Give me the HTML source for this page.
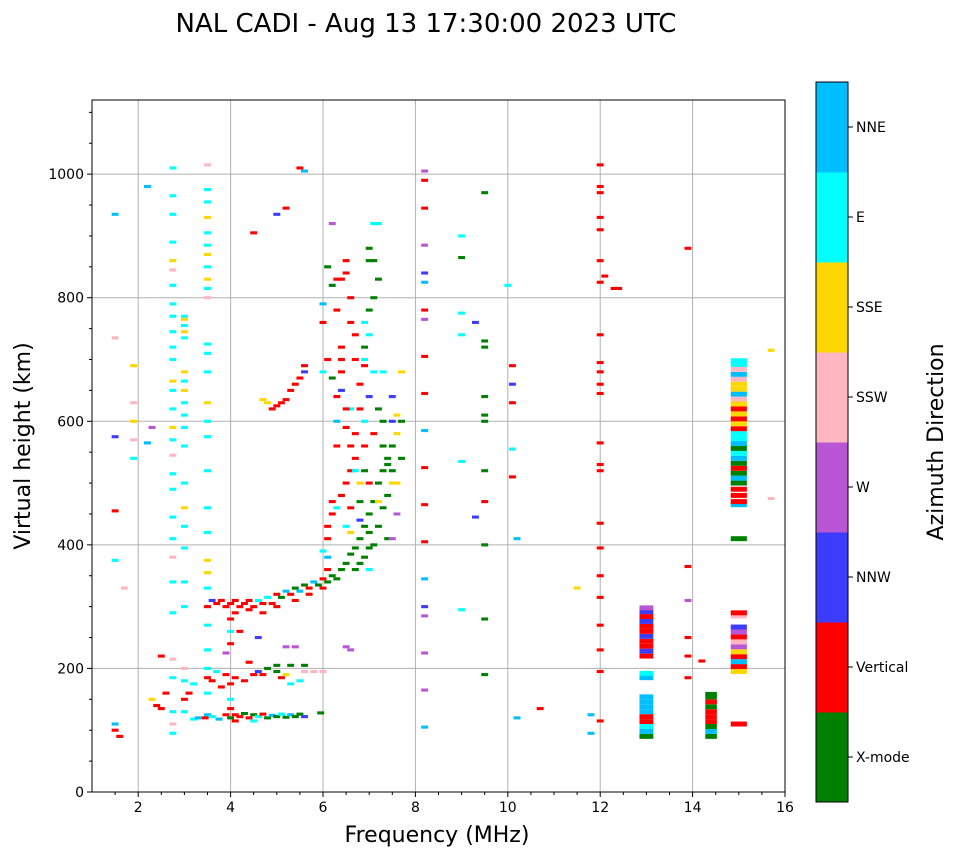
<!DOCTYPE html>
<html><head><meta charset="utf-8"><style>
body{margin:0;background:#fff;font-family:"Liberation Sans",sans-serif}
svg text{font-family:"DejaVu Sans","Liberation Sans",sans-serif}
</style></head><body>
<svg id="chart" width="958" height="857" xmlns="http://www.w3.org/2000/svg">
<text x="426" y="32" text-anchor="middle" font-size="26">NAL CADI - Aug 13 17:30:00 2023 UTC</text>
<g id="grid"></g>
<g id="marks"></g>
<rect x="92" y="100" width="693" height="692" fill="none" stroke="#000" stroke-width="1"/>
<g id="axes"></g>
<text x="437" y="842" text-anchor="middle" font-size="22">Frequency (MHz)</text>
<text transform="translate(30,446) rotate(-90)" text-anchor="middle" font-size="22">Virtual height (km)</text>
<g id="cbar"></g>
<text transform="translate(943,442) rotate(-90)" text-anchor="middle" font-size="22">Azimuth Direction</text>
</svg>
<script>
const dirLabels=["X-mode","Vertical","NNW","W","SSW","SSE","E","NNE"];
const dirColors=["#008000","#ff0000","#3c3cff","#b856d6","#ffb6c1","#ffd700","#00ffff","#00bfff"];
const xTicks=[2,4,6,8,10,12,14,16];
const yTicks=[0,200,400,600,800,1000];
const col275=[[2.75,95,6],[2.75,110,4],[2.75,130,6],[2.75,185,6],[2.75,215,4],[2.75,290,6],[2.75,340,6],[2.75,380,4],[2.75,410,6],[2.75,445,6],[2.75,490,6],[2.75,515,6],[2.75,545,4],[2.75,570,6],[2.75,590,5],[2.75,620,6],[2.75,650,6],[2.75,665,5],[2.75,700,6],[2.75,720,6],[2.75,745,6],[2.75,770,6],[2.75,790,6],[2.75,820,6],[2.75,845,4],[2.75,860,5],[2.75,890,6],[2.75,935,6],[2.75,965,6],[2.75,1010,6]];
const col3=[[3.0,130,6],[3.0,150,1],[3.0,180,6],[3.0,200,4],[3.0,300,6],[3.0,340,6],[3.0,395,6],[3.0,430,6],[3.0,460,5],[3.0,500,6],[3.0,560,6],[3.0,590,6],[3.0,610,6],[3.0,630,6],[3.0,650,5],[3.0,665,6],[3.0,680,5],[3.0,735,6],[3.0,745,5],[3.0,755,6],[3.0,765,5],[3.0,770,6]];
const col35=[[3.5,125,7],[3.5,160,6],[3.5,200,6],[3.5,230,6],[3.5,270,6],[3.5,330,6],[3.5,355,5],[3.5,375,5],[3.5,420,6],[3.5,460,6],[3.5,520,6],[3.5,575,6],[3.5,600,6],[3.5,630,5],[3.5,680,6],[3.5,710,6],[3.5,725,6],[3.5,800,4],[3.5,815,6],[3.5,830,5],[3.5,850,6],[3.5,870,5],[3.5,885,6],[3.5,905,6],[3.5,930,5],[3.5,955,6],[3.5,975,6],[3.5,1015,4]];
const eLayer=[[3.45,120,1],[3.6,122,6],[3.75,118,7],[3.9,125,1],[4.0,120,0],[4.1,125,1],[4.2,122,1],[4.3,127,0],[4.4,120,1],[4.5,125,0],[4.6,122,6],[4.7,126,1],[4.8,120,0],[4.9,124,7],[5.0,122,0],[5.1,126,6],[5.2,121,0],[5.3,125,7],[5.4,122,0],[5.5,126,0],[5.6,122,2],[5.95,128,0],[3.2,118,6],[3.3,120,7],[4.1,115,1],[4.5,115,6],[4.0,135,1],[4.0,150,6],[4.0,260,6],[4.0,280,1]];
const lowLayer=[[2.3,150,5],[2.4,140,1],[2.5,135,1],[2.6,160,1],[3.1,160,1],[3.2,175,6],[3.5,185,1],[3.6,180,1],[3.7,195,6],[3.8,170,1],[3.9,190,1],[4.0,175,1],[4.1,185,1],[4.3,180,1],[4.5,190,1],[4.6,195,2],[4.7,190,1],[4.8,200,0],[5.0,195,0],[5.1,185,1],[5.2,190,5],[5.3,175,6],[5.5,180,6],[5.6,195,4],[5.8,195,4],[6.0,195,4],[3.9,225,3],[4.0,240,1],[4.2,260,1],[4.6,250,2],[5.2,235,3],[5.4,235,3],[6.5,235,3],[6.6,230,3],[4.4,210,1],[5.0,205,0],[5.3,205,0],[5.6,205,0]];
const fTrace=[[3.5,300,1],[3.6,310,2],[3.7,305,1],[3.8,310,1],[3.9,300,1],[4.0,305,1],[4.1,310,1],[4.2,300,1],[4.3,305,1],[4.4,310,1],[4.5,300,1],[4.6,310,6],[4.7,305,1],[4.8,315,6],[4.9,305,1],[5.0,320,1],[5.1,315,0],[5.2,325,7],[5.3,320,1],[5.4,330,0],[5.5,325,7],[5.6,335,0],[5.7,330,1],[5.8,340,7],[5.9,335,0],[6.0,345,1],[6.1,340,0],[6.2,350,0],[6.3,345,0],[6.4,360,0],[6.5,370,0],[6.6,385,0],[6.7,395,0],[6.8,410,0],[6.9,430,0],[7.0,450,0],[7.1,470,0],[7.2,500,0],[7.3,520,0],[7.4,540,0],[7.5,560,0],[7.7,540,0],[7.6,500,5],[7.6,580,5],[7.6,610,5],[7.7,600,0],[4.1,290,1],[4.4,295,1],[4.7,290,1],[5.0,300,1],[5.4,310,1],[5.7,320,1],[6.0,330,1],[6.1,360,1],[6.1,380,7],[6.0,390,6],[6.1,410,1],[6.1,430,1],[6.2,450,1],[6.2,470,1],[6.3,460,6],[6.4,480,1],[6.5,500,1],[6.6,520,1],[6.7,540,1]];
const fScatter=[[6.3,560,1],[6.3,600,7],[6.3,640,1],[6.4,680,1],[6.4,700,1],[6.4,720,1],[6.3,780,1],[6.4,830,1],[6.5,860,1],[6.6,800,1],[6.6,760,1],[6.7,740,1],[6.7,700,1],[6.8,660,1],[6.8,620,1],[6.6,620,6],[6.5,590,1],[6.7,580,1],[6.9,560,1],[6.9,600,6],[7.0,640,2],[7.1,680,6],[6.9,690,1],[6.9,720,0],[6.9,760,6],[7.0,780,0],[7.1,800,0],[7.2,830,0],[7.1,860,0],[7.2,620,0],[7.3,600,0],[7.1,580,1],[7.3,560,0],[7.4,530,0],[7.5,520,0],[7.2,470,5],[7.4,480,0],[7.5,500,5],[7.3,460,0],[6.8,500,5],[6.9,520,0],[7.0,500,1],[6.8,470,0],[6.6,460,1],[6.5,430,6],[6.6,420,5],[6.8,440,2],[7.0,420,0],[7.2,430,0],[7.4,410,0],[7.5,410,3],[6.9,700,6],[7.0,740,6],[7.3,680,6],[7.5,640,2],[7.7,680,5],[7.5,600,2],[7.0,860,0],[7.1,920,6],[7.0,880,0],[6.5,840,1],[6.2,820,0],[6.3,830,1],[6.0,790,7],[6.0,760,1],[6.1,700,1],[6.0,680,6],[6.2,670,0],[6.4,650,2],[6.5,620,1],[6.6,560,1],[6.7,520,6],[7.6,450,3],[7.0,360,6],[7.1,400,0],[6.2,920,3],[6.1,850,0],[6.9,380,0],[7.0,395,0],[6.8,370,0],[6.7,360,0]];
const oblique=[[4.9,620,1],[5.0,625,1],[5.1,630,1],[5.2,635,1],[5.3,650,1],[5.4,660,1],[5.5,670,1],[5.6,680,2],[5.6,690,1],[4.8,630,5],[4.7,635,5]];
const scattered=[[1.5,935,7],[1.5,735,4],[1.5,575,2],[1.5,455,1],[1.5,375,6],[1.5,110,7],[1.5,100,1],[1.6,90,1],[1.9,690,5],[1.9,630,4],[1.9,600,5],[1.9,570,4],[1.9,540,6],[2.2,980,7],[2.3,590,3],[2.2,565,7],[1.7,330,4],[2.5,220,1],[4.5,905,1],[5.0,935,2],[5.2,945,1],[5.5,1010,1],[5.6,1005,7],[7.2,920,6],[8.2,1005,3],[8.2,990,1],[8.2,945,1],[8.2,885,3],[8.2,840,2],[8.2,825,7],[8.2,780,1],[8.2,765,3],[8.2,705,1],[8.2,645,1],[8.2,585,7],[8.2,525,1],[8.2,465,1],[8.2,405,1],[8.2,345,7],[8.2,300,2],[8.2,285,3],[8.2,225,3],[8.2,165,3],[8.2,105,7],[9.0,900,6],[9.0,865,0],[9.0,775,6],[9.0,740,6],[9.0,535,6],[9.0,295,6],[9.3,760,2],[9.3,445,2],[9.5,970,0],[9.5,730,0],[9.5,720,0],[9.5,640,0],[9.5,610,0],[9.5,600,0],[9.5,520,0],[9.5,470,1],[9.5,400,0],[9.5,280,0],[9.5,190,0],[10.0,820,6],[10.1,690,1],[10.1,660,2],[10.1,630,1],[10.1,555,6],[10.1,510,1],[10.2,410,7],[10.2,120,7],[10.7,135,1],[11.5,330,5],[11.8,125,7],[11.8,95,7],[12.0,1015,1],[12.0,980,1],[12.0,970,1],[12.0,930,1],[12.0,910,1],[12.0,860,1],[12.0,825,1],[12.0,740,1],[12.0,695,1],[12.0,680,1],[12.0,660,1],[12.0,645,1],[12.0,565,1],[12.0,530,1],[12.0,520,1],[12.0,435,1],[12.0,395,1],[12.0,350,1],[12.0,315,1],[12.0,270,1],[12.0,230,1],[12.0,195,1],[12.0,115,1],[12.1,835,1],[12.3,815,1],[12.4,815,1],[13.9,880,1],[13.9,365,1],[13.9,310,3],[13.9,250,1],[13.9,220,1],[13.9,185,1],[14.2,212,1],[15.7,715,5],[15.7,475,4]];
const stack13=[[13.0,90,0],[13.0,98,7],[13.0,106,6],[13.0,114,1],[13.0,122,1],[13.0,130,7],[13.0,138,7],[13.0,146,7],[13.0,154,7],[13.0,185,7],[13.0,192,6],[13.0,220,1],[13.0,228,2],[13.0,236,1],[13.0,244,1],[13.0,252,2],[13.0,260,1],[13.0,268,1],[13.0,276,2],[13.0,284,1],[13.0,292,2],[13.0,298,3]];
const stack144=[[14.4,90,0],[14.4,98,7],[14.4,106,0],[14.4,114,1],[14.4,122,1],[14.4,130,1],[14.4,138,0],[14.4,146,1],[14.4,154,0],[14.4,158,0]];
const stack15=[[15.0,110,1],[15.0,195,5],[15.0,203,1],[15.0,211,7],[15.0,219,1],[15.0,227,5],[15.0,235,3],[15.0,243,4],[15.0,251,1],[15.0,259,3],[15.0,267,2],[15.0,285,4],[15.0,290,1],[15.0,410,0],[15.0,465,7],[15.0,470,1],[15.0,480,1],[15.0,490,1],[15.0,500,0],[15.0,508,7],[15.0,516,0],[15.0,524,1],[15.0,532,0],[15.0,540,7],[15.0,548,6],[15.0,556,0],[15.0,564,7],[15.0,572,6],[15.0,580,6],[15.0,588,1],[15.0,596,5],[15.0,604,1],[15.0,612,5],[15.0,620,1],[15.0,628,5],[15.0,636,4],[15.0,644,7],[15.0,652,5],[15.0,660,5],[15.0,668,4],[15.0,676,7],[15.0,684,4],[15.0,692,6],[15.0,698,6]];

const NS="http://www.w3.org/2000/svg";
const X0=92,X1=785,Y0=792,Y1=100,FMIN=1,FMAX=16,HMIN=0,HMAX=1120;
const xs=f=>X0+(f-FMIN)/(FMAX-FMIN)*(X1-X0);
const ys=h=>Y0-(h-HMIN)/(HMAX-HMIN)*(Y0-Y1);
function mk(tag,attrs,parent){const e=document.createElementNS(NS,tag);for(const k in attrs)e.setAttribute(k,attrs[k]);parent.appendChild(e);return e;}
const grid=document.getElementById('grid'),axes=document.getElementById('axes'),marks=document.getElementById('marks'),cbar=document.getElementById('cbar');
xTicks.forEach(t=>{const x=xs(t);
 const g=mk('line',{x1:x,x2:x,y1:Y1,y2:Y0,stroke:'#b0b0b0','stroke-width':1},grid);
 
 
 mk('line',{x1:x,x2:x,y1:Y0,y2:Y0+5,stroke:'#000'},axes);
 const l=mk('text',{x:x,y:Y0+20,'text-anchor':'middle','font-size':14},axes);l.textContent=t;
 
 });
for(let f=1.5;f<16;f+=0.5){if(Number.isInteger(f)&&f%2===0)continue;mk('line',{x1:xs(f),x2:xs(f),y1:Y0,y2:Y0+3,stroke:'#000'},axes);}
yTicks.forEach(t=>{const y=ys(t);
 const g=mk('line',{x1:X0,x2:X1,y1:y,y2:y,stroke:'#b0b0b0','stroke-width':1},grid);
 
 
 mk('line',{x1:X0-5,x2:X0,y1:y,y2:y,stroke:'#000'},axes);
 const l=mk('text',{x:X0-8,y:y+5,'text-anchor':'end','font-size':14},axes);l.textContent=t;
 
 });
for(let h=50;h<1120;h+=50){if(h%200===0)continue;mk('line',{x1:X0-3,x2:X0,y1:ys(h),y2:ys(h),stroke:'#000'},axes);}
function draw(arr,w,hh,name){arr.forEach(p=>{const x=xs(p[0]-w/2),x2=xs(p[0]+w/2),y=ys(p[1]+hh/2),y2=ys(p[1]-hh/2);
 const r=mk('rect',{x:x,y:y,width:x2-x,height:y2-y,fill:dirColors[p[2]]},marks);
 
 });}
[col275,col3,col35,eLayer,lowLayer,fTrace,fScatter,oblique,scattered].forEach(a=>draw(a,0.15,5,'echo-mark'));
draw(stack13,0.3,8,'echo-stack');draw(stack144,0.25,8,'echo-stack');draw(stack15,0.35,8,'echo-stack');
const CX=816,CW=32,CT=82,CB=802,seg=(CB-CT)/dirLabels.length;
dirLabels.forEach((lab,i)=>{const y=CB-(i+1)*seg;
 const r=mk('rect',{x:CX,y:y,width:CW,height:seg+0.5,fill:dirColors[i]},cbar);
 
 
 mk('line',{x1:CX+CW,x2:CX+CW+5,y1:y+seg/2,y2:y+seg/2,stroke:'#000'},cbar);
 const t=mk('text',{x:CX+CW+8,y:y+seg/2+5,'font-size':14},cbar);t.textContent=lab;
 
 });
mk('rect',{x:CX,y:CT,width:CW,height:CB-CT,fill:'none',stroke:'#000'},cbar);
</script>
</body></html>
